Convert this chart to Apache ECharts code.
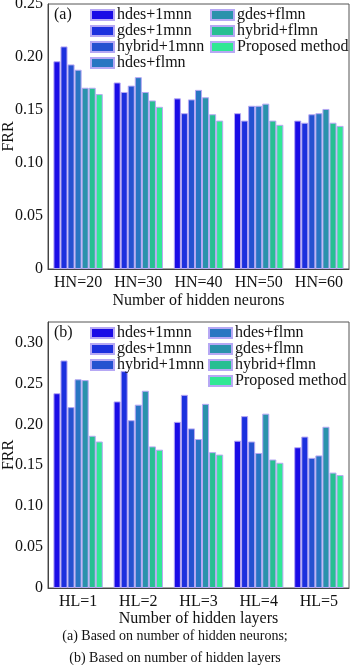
<!DOCTYPE html>
<html>
<head>
<meta charset="utf-8">
<script src="https://cdn.jsdelivr.net/npm/echarts@6/dist/echarts.min.js"></script>
<style>
  html, body { margin: 0; padding: 0; background: #fff; }
  #chart { width: 350px; height: 665px; }
</style>
</head>
<body>
<div id="chart"></div>
<script>
// series names, in drawing order
const methods = ['hdes+1mnn', 'gdes+1mnn', 'hybrid+1mnn', 'hdes+flmn', 'gdes+flmn', 'hybrid+flmn', 'Proposed method'];
const colors = ['#1a0ce6', '#1c30de', '#2552d0', '#2876c2', '#2a92ac', '#27bf92', '#30e894'];

// (a) number of hidden neurons
const neuronCats = ['HN=20', 'HN=30', 'HN=40', 'HN=50', 'HN=60'];
const neuronFRR = [
  [0.196, 0.176, 0.161, 0.147, 0.140],   // hdes+1mnn
  [0.210, 0.167, 0.147, 0.140, 0.138],   // gdes+1mnn
  [0.193, 0.173, 0.160, 0.154, 0.146],   // hybrid+1mnn
  [0.188, 0.181, 0.169, 0.154, 0.147],   // hdes+flmn
  [0.171, 0.167, 0.162, 0.156, 0.151],   // gdes+flmn
  [0.171, 0.159, 0.146, 0.140, 0.138],   // hybrid+flmn
  [0.165, 0.153, 0.140, 0.136, 0.135]    // Proposed method
];

// (b) number of hidden layers
const layerCats = ['HL=1', 'HL=2', 'HL=3', 'HL=4', 'HL=5'];
const layerFRR = [
  [0.238, 0.228, 0.203, 0.180, 0.172],
  [0.278, 0.265, 0.236, 0.210, 0.185],
  [0.221, 0.205, 0.195, 0.179, 0.159],
  [0.255, 0.224, 0.182, 0.165, 0.162],
  [0.254, 0.241, 0.225, 0.213, 0.197],
  [0.186, 0.173, 0.166, 0.157, 0.141],
  [0.179, 0.169, 0.163, 0.153, 0.138]
];

const serif = 'Liberation Serif';
const chart = echarts.init(document.getElementById('chart'));

const fmt = v => (v === 0 ? '0' : v.toFixed(2));

function makeSeries(data, idx) {
  return data.map((vals, i) => ({
    name: methods[i],
    type: 'bar',
    xAxisIndex: idx,
    yAxisIndex: idx,
    data: vals,
    barGap: 0,
    barCategoryGap: '18%',
    itemStyle: { color: colors[i], borderColor: '#b6a8f4', borderWidth: 1 }
  }));
}

function legend(names, left, top) {
  return {
    data: names,
    orient: 'vertical',
    left: left,
    top: top,
    icon: 'rect',
    itemWidth: 23,
    itemHeight: 10,
    itemGap: 0,
    padding: 0,
    textStyle: { fontFamily: serif, fontSize: 16, lineHeight: 15, color: '#111', padding: [0, 0, 0, -2] }
  };
}

const xAxisBase = {
  type: 'category',
  nameLocation: 'middle',
  axisLine: { lineStyle: { color: '#444' } },
  axisTick: { show: false },
  axisLabel: { fontFamily: serif, fontSize: 16, color: '#111', margin: 6, interval: 0 },
  nameTextStyle: { fontFamily: serif, fontSize: 16, color: '#111' }
};

const yAxisBase = {
  type: 'value',
  name: 'FRR',
  nameLocation: 'middle',
  nameGap: 31,
  nameMoveOverlap: false,
  min: 0,
  interval: 0.05,
  splitLine: { show: false },
  axisLine: { show: true, lineStyle: { color: '#444' } },
  axisTick: { show: false },
  axisLabel: { fontFamily: serif, fontSize: 16, color: '#111', margin: 5, formatter: fmt },
  nameTextStyle: { fontFamily: serif, fontSize: 16, color: '#111' }
};

const option = {
  animation: false,
  grid: [
    { left: 48, top: 4, width: 301, height: 265, show: true, borderColor: '#555', borderWidth: 1, outerBoundsMode: 'none' },
    { left: 48, top: 322, width: 301, height: 266, show: true, borderColor: '#555', borderWidth: 1, outerBoundsMode: 'none' }
  ],
  xAxis: [
    Object.assign({}, xAxisBase, { gridIndex: 0, data: neuronCats, name: 'Number of hidden neurons', nameGap: 24 }),
    Object.assign({}, xAxisBase, { gridIndex: 1, data: layerCats, name: 'Number of hidden layers', nameGap: 21 })
  ],
  yAxis: [
    Object.assign({}, yAxisBase, { gridIndex: 0, max: 0.25 }),
    Object.assign({}, yAxisBase, { gridIndex: 1, max: 0.325, axisLabel: Object.assign({}, yAxisBase.axisLabel, { showMaxLabel: false }) })
  ],
  legend: [
    legend(methods.slice(0, 4), 90, 7),
    legend(methods.slice(4), 210, 7),
    legend(methods.slice(0, 3), 90, 325),
    legend(methods.slice(3), 208, 325)
  ],
  graphic: [
    { type: 'text', left: 54, top: 7, style: { text: '(a)', font: '16px ' + serif, fill: '#111' } },
    { type: 'text', left: 54, top: 325, style: { text: '(b)', font: '16px ' + serif, fill: '#111' } },
    { type: 'text', left: 'center', top: 629, style: { text: '(a) Based on number of hidden neurons;', font: '14px ' + serif, fill: '#111' } },
    { type: 'text', left: 'center', top: 651, style: { text: '(b) Based on number of hidden layers', font: '14px ' + serif, fill: '#111' } }
  ],
  series: makeSeries(neuronFRR, 0).concat(makeSeries(layerFRR, 1))
};

chart.setOption(option);
window.addEventListener('resize', () => chart.resize());
</script>
</body>
</html>
